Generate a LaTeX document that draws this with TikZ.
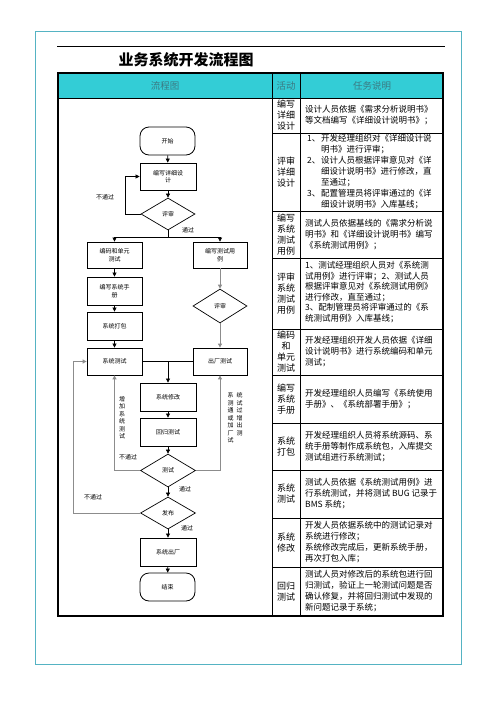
\documentclass[tikz,border=0pt]{standalone}
\usepackage{fontspec}
\setmainfont{Noto Sans CJK SC}
\usetikzlibrary{shapes.geometric,arrows.meta}
\definecolor{frameteal}{HTML}{55B3C3}
\definecolor{headfill}{HTML}{33CDD6}
\definecolor{headtxt}{HTML}{3B7A82}
\tikzset{
  fbox/.style={draw, line width=0.8pt, minimum width=55pt, minimum height=27pt, inner sep=0pt, align=center, font=\fontsize{6}{7.5}\selectfont},
  term/.style={fbox, rounded corners=9pt},
  dia/.style={draw, diamond, line width=0.7pt, inner sep=0pt, minimum width=55pt, minimum height=33pt, font=\fontsize{6}{7.5}\selectfont},
  conn/.style={line width=0.6pt, -{Triangle[length=4pt,width=4pt]}},
  gconn/.style={conn, draw=black!45, line width=0.9pt},
  plainconn/.style={line width=0.6pt},
  lbl/.style={font=\fontsize{6}{7.5}\selectfont, inner sep=0pt, align=center},
  act/.style={font=\fontsize{9}{11}\selectfont, align=center, inner sep=0pt},
  desc/.style={font=\fontsize{8.5}{11}\selectfont, align=left, inner sep=0pt, anchor=west},
  headtext/.style={font=\fontsize{9.5}{11}\selectfont, text=headtxt, inner sep=0pt},
}
\newcommand{\numitem}[1]{\makebox[14pt][l]{#1}}
\begin{document}
\begin{tikzpicture}[x=1pt,y=-1pt]
\useasboundingbox (0,0) rectangle (496,702);
% outer frame
\draw[frameteal, line width=1pt] (35,31) rectangle (461,664);
% top rule
\draw[line width=0.8pt] (57,46) -- (445,46);
% title
\node[font=\fontsize{15}{18}\selectfont\bfseries, inner sep=0pt] (title) at (186,60) {业务系统开发流程图};
% header
\fill[headfill] (58,73) rectangle (443,98);
\node[headtext] (h1) at (165,86) {流程图};
\node[headtext] (h2) at (286,86) {活动};
\node[headtext] (h3) at (372,86) {任务说明};
% table lines
\draw[line width=0.8pt] (272,73) -- (272,616);
\draw[line width=0.8pt] (300,73) -- (300,616);
\draw[line width=0.8pt] (58,98) -- (443,98);
\foreach \yy in {133,211,258,329,375,423,470,518,567}{
  \draw[line width=0.7pt] (272,\yy) -- (443,\yy);
}
\draw[line width=1.2pt] (58,73) rectangle (443,616);

% activity column
\node[act] (a1) at (286,115.5) {编写\\详细\\设计};
\node[act] (a2) at (286,172) {评审\\详细\\设计};
\node[act] (a3) at (286,234.5) {编写\\系统\\测试\\用例};
\node[act] (a4) at (286,293.5) {评审\\系统\\测试\\用例};
\node[act] (a5) at (286,352) {编码\\和\\单元\\测试};
\node[act] (a6) at (286,399) {编写\\系统\\手册};
\node[act] (a7) at (286,446.5) {系统\\打包};
\node[act] (a8) at (286,494) {系统\\测试};
\node[act] (a9) at (286,542.5) {系统\\修改};
\node[act] (a10) at (286,591.5) {回归\\测试};

% description column
\node[desc] (d1) at (305,115.5) {设计人员依据《需求分析说明书》\\等文档编写《详细设计说明书》；};
\node[desc] (d2) at (307,172) {\begin{tabular}{@{}l@{}l@{}}
\numitem{1、} & 开发经理组织对《详细设计说\\
 & 明书》进行评审；\\
\numitem{2、} & 设计人员根据评审意见对《详\\
 & 细设计说明书》进行修改，直\\
 & 至通过；\\
\numitem{3、} & 配置管理员将评审通过的《详\\
 & 细设计说明书》入库基线；
\end{tabular}};
\node[desc] (d3) at (305,234.5) {测试人员依据基线的《需求分析说\\明书》和《详细设计说明书》编写\\《系统测试用例》；};
\node[desc, font=\fontsize{8.5}{10.5}\selectfont] (d4) at (305,292) {1、测试经理组织人员对《系统测\\试用例》进行评审；2、测试人员\\根据评审意见对《系统测试用例》\\进行修改，直至通过；\\3、配制管理员将评审通过的《系\\统测试用例》入库基线；};
\node[desc] (d5) at (305,352) {开发经理组织开发人员依据《详细\\设计说明书》进行系统编码和单元\\测试；};
\node[desc] (d6) at (305,399) {开发经理组织人员编写《系统使用\\手册》、《系统部署手册》；};
\node[desc] (d7) at (305,446.5) {开发经理组织人员将系统源码、系\\统手册等制作成系统包，入库提交\\测试组进行系统测试；};
\node[desc] (d8) at (305,494) {测试人员依据《系统测试用例》进\\行系统测试，并将测试 BUG 记录于\\BMS 系统；};
\node[desc] (d9) at (305,542.5) {开发人员依据系统中的测试记录对\\系统进行修改；\\系统修改完成后，更新系统手册，\\再次打包入库；};
\node[desc] (d10) at (305,591.5) {测试人员对修改后的系统包进行回\\归测试，验证上一轮测试问题是否\\确认修复，并将回归测试中发现的\\新问题记录于系统；};

% flowchart nodes
\node[term, minimum height=28pt] (start) at (167.5,141) {开始};
\node[fbox, minimum width=56pt] (design) at (168,176.5) {编写详细设\\计};
\node[dia, minimum width=54pt, minimum height=32pt] (rev1) at (168,214) {评审};
\coordinate (split) at (168,237);
\node[fbox, minimum height=26pt] (unit) at (114.5,255) {编码和单元\\测试};
\node[fbox, minimum width=54pt, minimum height=26pt] (cases) at (220,255) {编写测试用\\例};
\node[fbox, minimum height=28pt] (manual) at (114.5,291) {编写系统手\\册};
\node[fbox, minimum height=28pt] (pack) at (114.5,326) {系统打包};
\node[dia, minimum width=54pt, minimum height=34pt] (rev2) at (220,306) {评审};
\node[fbox] (systest) at (114.5,361.5) {系统测试};
\node[fbox, minimum width=54pt] (factory) at (220,361.5) {出厂测试};
\node[fbox, minimum width=56pt, minimum height=28pt] (modify) at (168,397) {系统修改};
\node[fbox, minimum width=56pt, minimum height=28pt] (regress) at (168,432) {回归测试};
\node[dia] (test) at (168,470.5) {测试};
\node[dia, minimum height=32pt] (publish) at (168,513) {发布};
\node[fbox, minimum width=56pt, minimum height=28pt] (release) at (168,552) {系统出厂};
\node[term, minimum height=28pt] (finish) at (167.5,587) {结束};
\coordinate (leftrail) at (73,0);
\coordinate (loop1) at (125,0);

% connectors
\draw[conn] (start) -- (design);
\draw[conn] (design) -- (rev1);
\draw[conn] (rev1.west) -- (rev1.west -| loop1) |- (design.west);
\node[lbl] (l1) at (105,197) {不通过};
\draw[plainconn] (rev1.south) -- (split);
\draw[conn] (split) -| (unit.north);
\draw[conn] (split) -| (cases.north);
\node[lbl] (l2) at (188,230) {通过};
\draw[conn] (unit) -- (manual);
\draw[conn] (manual) -- (pack);
\draw[conn] (pack) -- (systest);
\draw[gconn] (cases) -- (rev2);
\draw[gconn] (rev2) -- (factory);
\draw[plainconn] (systest.east) -- (factory.west);
\coordinate (mid) at (systest.east -| modify.north);
\draw[conn] (mid) -- (modify.north);
\draw[conn] (modify) -- (regress);
\draw[conn] (regress) -- (test);
\draw[gconn] (test.west) -| (systest.south);
\draw[gconn] (test.east) -| (factory.south);
\node[lbl] (l3) at (122,417.5) {增\\加\\系\\统\\测\\试};
\node[lbl] (l4) at (128,457) {不通过};
\node[lbl, align=left] (l5) at (235,418) {系\hspace{3pt}统\\测\hspace{3pt}试\\通\hspace{3pt}过\\或\hspace{3pt}增\\加\hspace{3pt}出\\厂\hspace{3pt}测\\试};
\draw[conn] (test) -- (publish);
\node[lbl] (l6) at (185,489) {通过};
\draw[gconn] (publish.west) -- (publish.west -| leftrail) |- (systest.west);
\node[lbl] (l7) at (93,497) {不通过};
\draw[conn] (publish) -- (release);
\node[lbl] (l8) at (187,528) {通过};
\draw[conn] (release) -- (finish);
\end{tikzpicture}
\end{document}
